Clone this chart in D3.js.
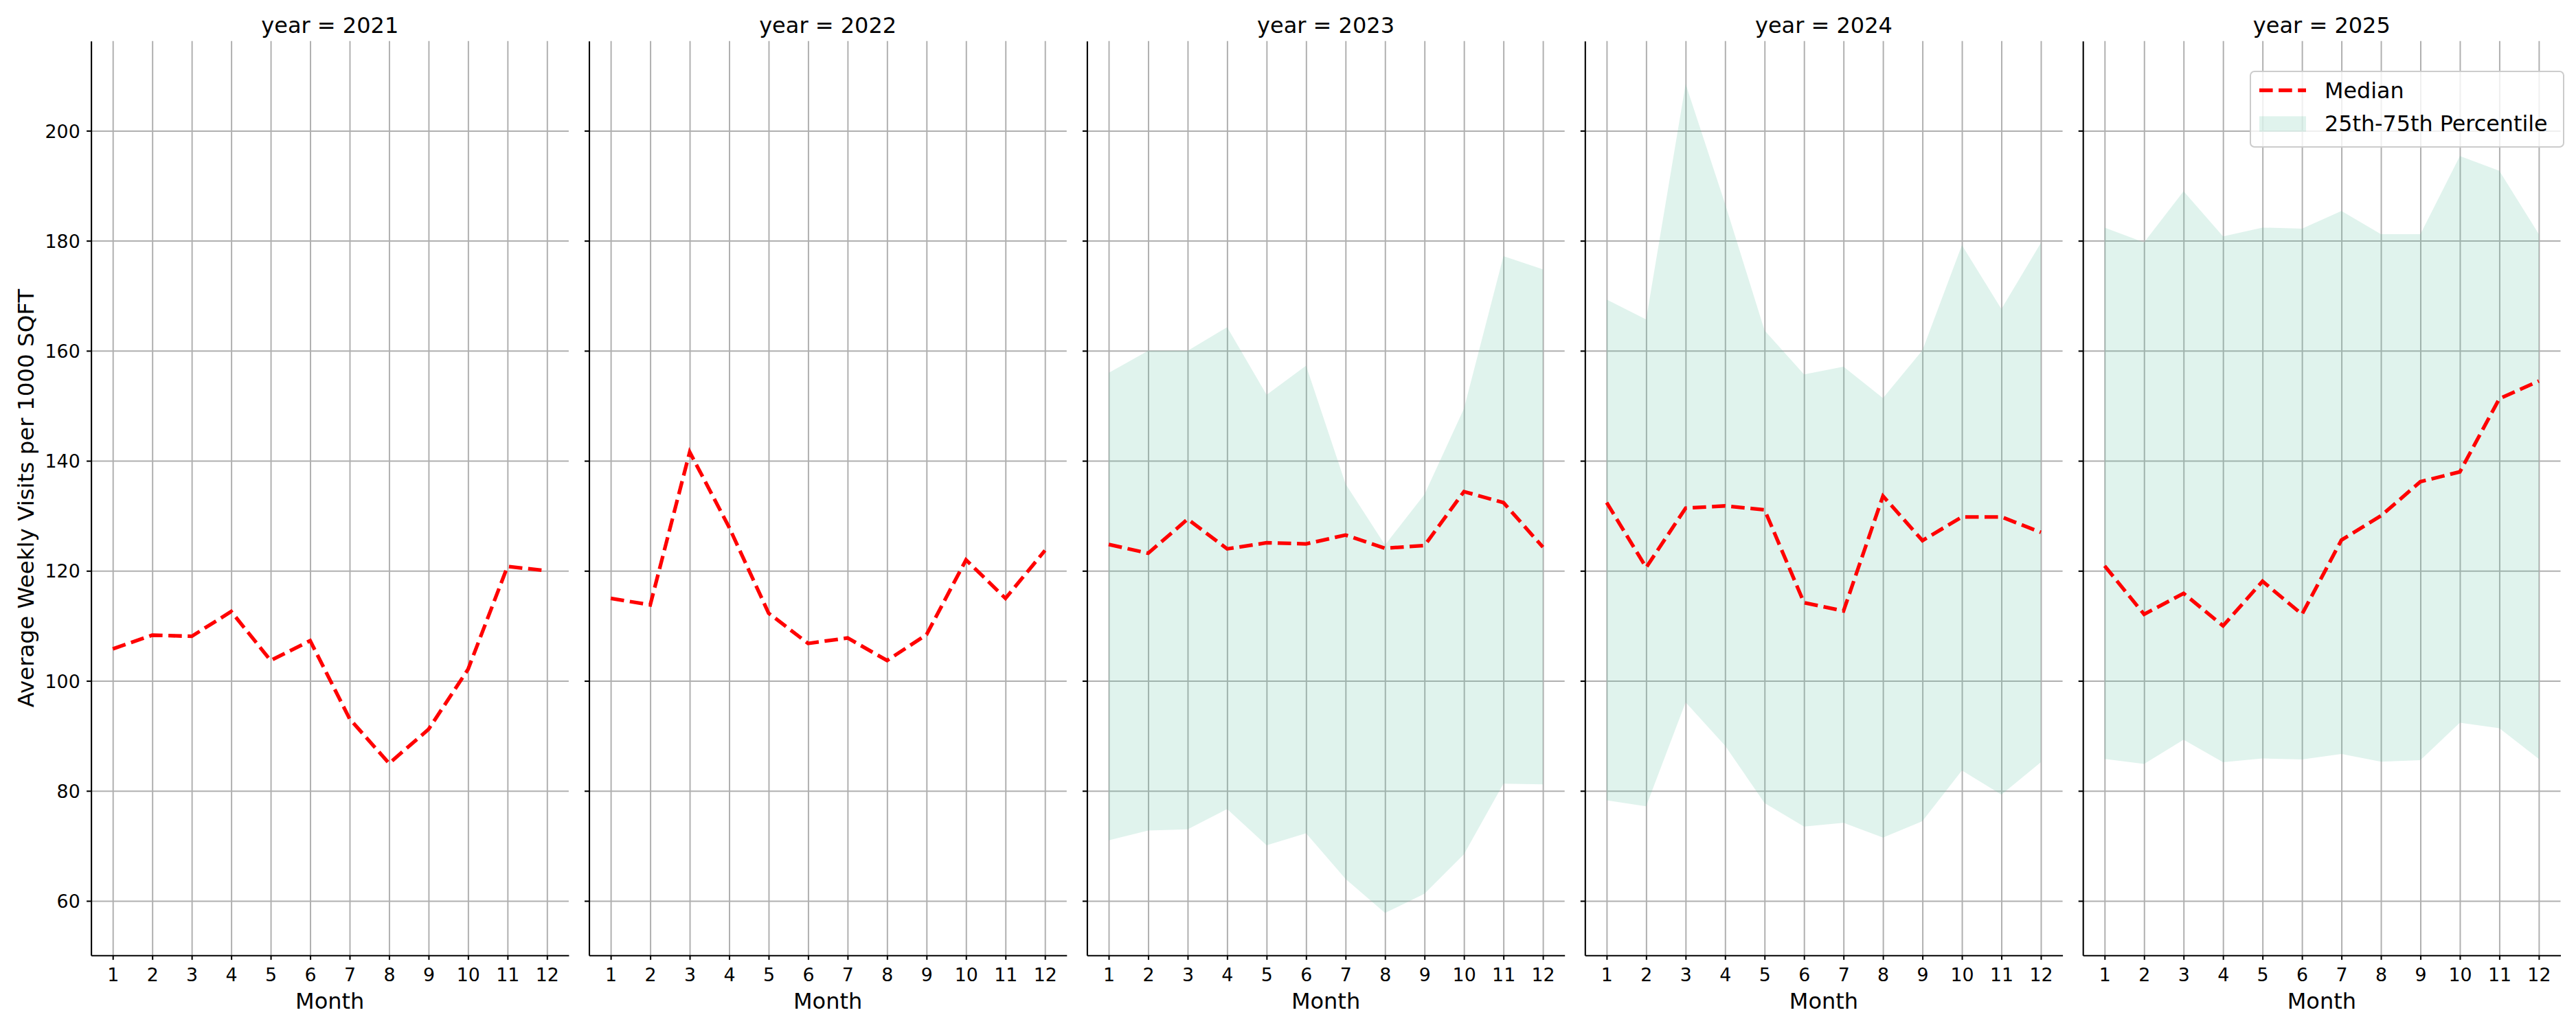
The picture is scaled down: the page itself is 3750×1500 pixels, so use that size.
<!DOCTYPE html>
<html>
<head>
<meta charset="utf-8">
<script src="https://cdn.jsdelivr.net/npm/d3@7"></script>
<style>
  body { margin: 0; background: white; }
  svg { display: block; font-family: "DejaVu Sans", sans-serif; }
</style>
</head>
<body>
<div id="chart"></div>
<script>
// chart data
const years = [2021, 2022, 2023, 2024, 2025];
const months = [1, 2, 3, 4, 5, 6, 7, 8, 9, 10, 11, 12];
const yTicks = [60, 80, 100, 120, 140, 160, 180, 200];

const median2021 = [105.8, 108.3, 108.1, 112.6, 103.7, 107.3, 93.1, 85.0, 91.2, 102.1, 120.8, 120.0];
const median2022 = [115.0, 113.8, 141.6, 127.9, 112.3, 106.8, 107.8, 103.7, 108.4, 122.0, 115.0, 123.7];
const median2023 = [124.8, 123.2, 129.4, 124.0, 125.1, 124.9, 126.5, 124.1, 124.6, 134.4, 132.4, 124.3];
const median2024 = [132.4, 120.6, 131.4, 131.8, 131.1, 114.2, 112.7, 133.6, 125.5, 129.8, 129.8, 127.0];
const median2025 = [120.9, 112.1, 115.9, 110.0, 118.1, 112.1, 125.6, 130.0, 136.2, 138.0, 151.3, 154.5];

const p25_2023 = [71.0, 72.8, 73.0, 76.7, 70.1, 72.3, 64.0, 57.8, 61.3, 68.5, 81.3, 81.2];
const p75_2023 = [156.0, 160.0, 160.0, 164.3, 152.0, 157.3, 135.8, 124.7, 133.9, 149.5, 177.2, 174.8];
const p25_2024 = [78.3, 77.2, 96.1, 88.2, 77.8, 73.5, 74.2, 71.5, 74.5, 83.7, 79.3, 85.2];
const p75_2024 = [169.3, 165.7, 208.5, 186.7, 163.7, 155.7, 157.1, 151.4, 160.1, 179.2, 167.6, 179.6];
const p25_2025 = [85.8, 84.9, 89.3, 85.2, 85.9, 85.7, 86.7, 85.3, 85.6, 92.4, 91.4, 85.8];
const p75_2025 = [182.4, 179.7, 189.0, 180.8, 182.4, 182.2, 185.4, 181.2, 181.2, 195.4, 192.7, 181.2];

const medians = [median2021, median2022, median2023, median2024, median2025];
const lows = [null, null, p25_2023, p25_2024, p25_2025];
const highs = [null, null, p75_2023, p75_2024, p75_2025];

// layout
const W = 3750, H = 1500;
const panelLeft = 132.6, panelStep = 724.9, panelWidth = 695.3;
const plotTop = 59.8, plotBottom = 1391.3;
const plotHeight = plotBottom - plotTop;

const fillColor = "#66c2a5";

const svg = d3.select("#chart")
    .append("svg")
    .attr("width", W)
    .attr("height", H);

svg.append("rect").attr("width", W).attr("height", H).attr("fill", "white");

// shared y scale
const y = d3.scaleLinear()
    .domain([50.1, 216.3])
    .range([plotHeight, 0]);

years.forEach((year, i) => {
    const g = svg.append("g")
        .attr("transform", `translate(${panelLeft + i * panelStep}, ${plotTop})`);

    const x = d3.scaleLinear()
        .domain([0.45, 12.55])
        .range([0, panelWidth]);

    // grid lines
    const gy = g.append("g")
        .call(d3.axisLeft(y).tickValues(yTicks).tickSize(-panelWidth).tickFormat(""));
    const gx = g.append("g")
        .attr("transform", `translate(0, ${plotHeight})`)
        .call(d3.axisBottom(x).tickValues(months).tickSize(plotHeight).tickFormat(""));
    gx.selectAll("line").attr("y2", -plotHeight);
    [gy, gx].forEach(s => {
        s.select(".domain").remove();
        s.selectAll("line").attr("stroke", "#b0b0b0").attr("stroke-width", 2);
    });

    // percentile band
    if (lows[i]) {
        const band = months.map((m, j) => ({m: m, lo: lows[i][j], hi: highs[i][j]}));
        g.append("path")
            .datum(band)
            .attr("fill", fillColor)
            .attr("fill-opacity", 0.2)
            .attr("d", d3.area()
                .x(d => x(d.m))
                .y0(d => y(d.lo))
                .y1(d => y(d.hi)));
    }

    // median line
    const pts = months.map((m, j) => ({m: m, v: medians[i][j]}));
    g.append("path")
        .datum(pts)
        .attr("fill", "none")
        .attr("stroke", "red")
        .attr("stroke-width", 5.3)
        .attr("stroke-dasharray", "19.6,8.5")
        .attr("d", d3.line().x(d => x(d.m)).y(d => y(d.v)));

    // x axis
    const xa = g.append("g")
        .attr("transform", `translate(0, ${plotHeight})`)
        .call(d3.axisBottom(x).tickValues(months).tickSize(6.5).tickSizeOuter(0).tickPadding(12.4));
    // y axis (labels only on first panel)
    const ya = g.append("g")
        .call(d3.axisLeft(y).tickValues(yTicks).tickSize(6.5).tickSizeOuter(0).tickPadding(9.4)
            .tickFormat(i === 0 ? d3.format("d") : ""));
    [xa, ya].forEach(s => {
        s.select(".domain").attr("stroke", "#000").attr("stroke-width", 2.1);
        s.selectAll(".tick line").attr("stroke", "#000").attr("stroke-width", 2.1);
        s.selectAll(".tick text")
            .attr("fill", "#000")
            .attr("font-size", "26.8px")
            .attr("font-family", "DejaVu Sans");
    });
    ya.selectAll(".tick text").attr("dy", "0.36em");

    // panel title
    g.append("text")
        .attr("x", panelWidth / 2)
        .attr("y", 47.5 - plotTop)
        .attr("text-anchor", "middle")
        .attr("font-size", "32px")
        .attr("fill", "#000")
        .text(`year = ${year}`);

    // x label
    g.append("text")
        .attr("x", panelWidth / 2)
        .attr("y", 1469.3 - plotTop)
        .attr("text-anchor", "middle")
        .attr("font-size", "32px")
        .attr("fill", "#000")
        .text("Month");

    // legend in the last panel
    if (i === years.length - 1) {
        const lg = svg.append("g");
        lg.append("rect")
            .attr("x", 3276).attr("y", 104)
            .attr("width", 456).attr("height", 110)
            .attr("rx", 6).attr("ry", 6)
            .attr("fill", "white").attr("fill-opacity", 0.8)
            .attr("stroke", "#cccccc").attr("stroke-width", 2);
        lg.append("line")
            .attr("x1", 3289).attr("x2", 3357)
            .attr("y1", 131.5).attr("y2", 131.5)
            .attr("stroke", "red").attr("stroke-width", 5.3)
            .attr("stroke-dasharray", "19.6,8.5");
        lg.append("rect")
            .attr("x", 3289).attr("y", 169.3)
            .attr("width", 68).attr("height", 22.4)
            .attr("fill", fillColor).attr("fill-opacity", 0.2);
        lg.append("text")
            .attr("x", 3384).attr("y", 142.7)
            .attr("font-size", "31.8px").attr("fill", "#000")
            .text("Median");
        lg.append("text")
            .attr("x", 3384).attr("y", 191)
            .attr("font-size", "31.8px").attr("fill", "#000")
            .text("25th-75th Percentile");
    }
});

// shared y label
svg.append("text")
    .attr("transform", `translate(48.5, ${(plotTop + plotBottom) / 2}) rotate(-90)`)
    .attr("text-anchor", "middle")
    .attr("font-size", "32.5px")
    .attr("fill", "#000")
    .text("Average Weekly Visits per 1000 SQFT");
</script>
</body>
</html>
